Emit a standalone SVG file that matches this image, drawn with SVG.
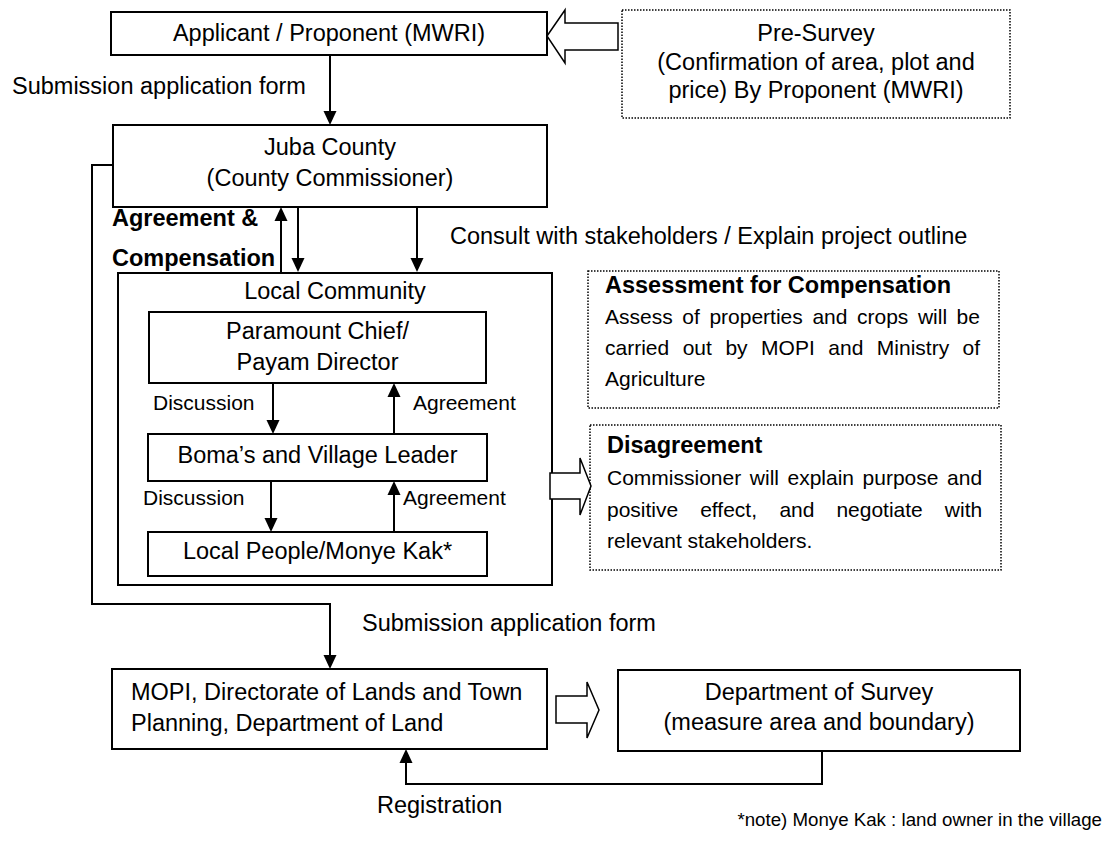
<svg xmlns="http://www.w3.org/2000/svg" width="1106" height="841" viewBox="0 0 1106 841">
  <defs>
    <style>
      .box { fill: #fff; stroke: #000; stroke-width: 2; }
      .dot { fill: #fff; stroke: #000; stroke-width: 1.5; stroke-dasharray: 1.5 1.5; }
      .t { font-family: "Liberation Sans", Arial, Helvetica, sans-serif; font-size: 23.5px; fill: #000; }
      .c { text-anchor: middle; }
      .s { font-size: 21px; }
      .b { font-weight: bold; }
      .ln { fill: none; stroke: #000; stroke-width: 2; }
      .hol { fill: #fff; stroke: #000; stroke-width: 1.5; stroke-linejoin: miter; }
    </style>
    <marker id="arrow" markerUnits="userSpaceOnUse" markerWidth="15" markerHeight="14" refX="10" refY="6.5" orient="auto" overflow="visible">
      <path d="M0,0 L14,6.5 L0,13 Z" fill="#000"/>
    </marker>
  </defs>

  <rect width="1106" height="841" fill="#fff"/>

  <!-- nodes -->
  <g id="applicant">
    <rect class="box" x="111" y="12" width="436" height="43"/>
    <text class="t c" x="329" y="41">Applicant / Proponent (MWRI)</text>
  </g>

  <g id="pre-survey">
    <rect class="dot" x="622" y="10" width="388" height="108"/>
    <text class="t c" x="816" y="41">Pre-Survey</text>
    <text class="t c" x="816" y="70">(Confirmation of area, plot and</text>
    <text class="t c" x="816" y="98">price) By Proponent (MWRI)</text>
  </g>

  <g id="juba-county">
    <rect class="box" x="113" y="125" width="434" height="82"/>
    <text class="t c" x="330" y="155">Juba County</text>
    <text class="t c" x="330" y="186">(County Commissioner)</text>
  </g>

  <g id="local-community">
    <rect class="box" x="118" y="273" width="434" height="312"/>
    <text class="t c" x="335" y="299">Local Community</text>
  </g>

  <g id="paramount-chief">
    <rect class="box" x="149" y="312" width="337" height="71"/>
    <text class="t c" x="317.5" y="339">Paramount Chief/</text>
    <text class="t c" x="317.5" y="370">Payam Director</text>
  </g>

  <g id="boma-leader">
    <rect class="box" x="148" y="434" width="339" height="47"/>
    <text class="t c" x="317.5" y="463">Boma’s and Village Leader</text>
  </g>

  <g id="local-people">
    <rect class="box" x="148" y="532" width="339" height="44"/>
    <text class="t c" x="317.5" y="559">Local People/Monye Kak*</text>
  </g>

  <g id="assessment">
    <rect class="dot" x="588" y="271" width="411" height="137"/>
    <text class="t b" x="605" y="293">Assessment for Compensation</text>
    <text class="t s" y="324"><tspan x="605">Assess</tspan><tspan x="682.3">of</tspan><tspan x="709.4">properties</tspan><tspan x="812.4">and</tspan><tspan x="857">crops</tspan><tspan x="917.9">will</tspan><tspan x="956.6">be</tspan></text>
    <text class="t s" y="355"><tspan x="605">carried</tspan><tspan x="682.7">out</tspan><tspan x="725.4">by</tspan><tspan x="761.1">MOPI</tspan><tspan x="828.3">and</tspan><tspan x="876.8">Ministry</tspan><tspan x="962.6">of</tspan></text>
    <text class="t s" x="605" y="386">Agriculture</text>
  </g>

  <g id="disagreement">
    <rect class="dot" x="590" y="425" width="411" height="145"/>
    <text class="t b" x="607" y="453">Disagreement</text>
    <text class="t s" y="485"><tspan x="607">Commissioner</tspan><tspan x="749.8">will</tspan><tspan x="787.5">explain</tspan><tspan x="862.6">purpose</tspan><tspan x="947.1">and</tspan></text>
    <text class="t s" y="517"><tspan x="607">positive</tspan><tspan x="700.2">effect,</tspan><tspan x="779.4">and</tspan><tspan x="836.4">negotiate</tspan><tspan x="944.8">with</tspan></text>
    <text class="t s" x="607" y="548">relevant stakeholders.</text>
  </g>

  <g id="mopi-lands">
    <rect class="box" x="112" y="669" width="435" height="80"/>
    <text class="t" x="131" y="700">MOPI, Directorate of Lands and Town</text>
    <text class="t" x="131" y="731">Planning, Department of Land</text>
  </g>

  <g id="survey">
    <rect class="box" x="618" y="670" width="402" height="81"/>
    <text class="t c" x="819" y="700">Department of Survey</text>
    <text class="t c" x="819" y="730">(measure area and boundary)</text>
  </g>

  <!-- connectors -->
  <g id="connectors">
    <line class="ln" x1="330" y1="55" x2="330" y2="121" marker-end="url(#arrow)"/>
    <polyline class="ln" points="113,165 92,165 92,604 330,604 330,665" marker-end="url(#arrow)"/>
    <line class="ln" x1="281" y1="272" x2="281" y2="211" marker-end="url(#arrow)"/>
    <line class="ln" x1="298" y1="207" x2="298" y2="268" marker-end="url(#arrow)"/>
    <line class="ln" x1="417" y1="207" x2="417" y2="268" marker-end="url(#arrow)"/>
    <line class="ln" x1="273" y1="383" x2="273" y2="430" marker-end="url(#arrow)"/>
    <line class="ln" x1="394" y1="434" x2="394" y2="387" marker-end="url(#arrow)"/>
    <line class="ln" x1="271" y1="481" x2="271" y2="528" marker-end="url(#arrow)"/>
    <line class="ln" x1="394" y1="532" x2="394" y2="485" marker-end="url(#arrow)"/>
    <polyline class="ln" points="822,751 822,784 406,784 406,753" marker-end="url(#arrow)"/>

    <!-- block arrows -->
    <path class="hol" d="M547,36 L565,10 L565,23 L618,23 L618,50 L565,50 L565,63 Z"/>
    <path class="hol" d="M550,473 L580,473 L580,458 L591,486 L580,515 L580,499 L550,499 Z"/>
    <path class="hol" d="M556,696 L587,696 L587,682 L599,710 L587,738 L587,723 L556,723 Z"/>

    <!-- labels -->
    <text class="t" x="12" y="94">Submission application form</text>
    <text class="t b" x="112" y="226">Agreement &amp;</text>
    <text class="t b" x="112" y="266">Compensation</text>
    <text class="t" x="450" y="244">Consult with stakeholders / Explain project outline</text>
    <text class="t s" x="153" y="410">Discussion</text>
    <text class="t s" x="413" y="410">Agreement</text>
    <text class="t s" x="143" y="505">Discussion</text>
    <text class="t s" x="403" y="505">Agreement</text>
    <text class="t" x="362" y="631">Submission application form</text>
    <text class="t" x="377" y="813">Registration</text>
  </g>

  <text class="t" x="1102" y="826" style="font-size:18.7px; text-anchor:end">*note) Monye Kak : land owner in the village</text>
</svg>
